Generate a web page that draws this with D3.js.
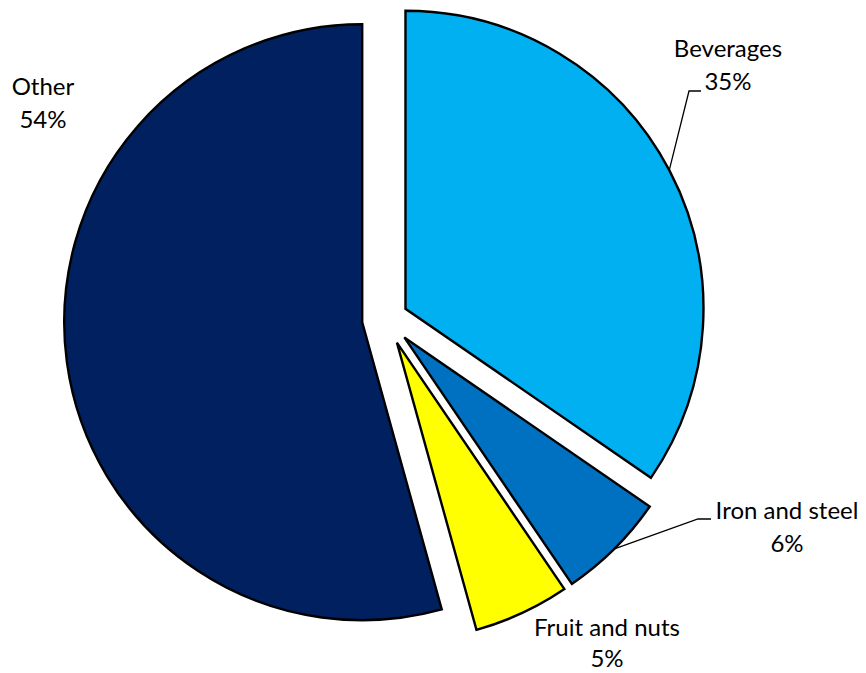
<!DOCTYPE html>
<html>
<head>
<meta charset="utf-8">
<script src="https://cdn.jsdelivr.net/npm/d3@7"></script>
<style>
  html, body { margin: 0; padding: 0; background: #ffffff; }
  svg { display: block; }
  text { font-family: Lato, "Open Sans", sans-serif; fill: #000; }
</style>
</head>
<body>
<svg id="chart" width="866" height="673"></svg>
<script>
// ---- data ----
const categories = ["Beverages", "Iron and steel", "Fruit and nuts", "Other"];
const values = [34.6, 5.9, 5.2, 54.3];
const colors = ["#00B0F0", "#0070C0", "#FFFF00", "#002060"];

// ---- layout ----
const W = 866, H = 673;
const cx = 386, cy = 319, R = 298;
const explode = [22, 26, 26, 24];
// label anchor positions (centre x, first baseline y) and leader lines
const labelPos = [
  { x: 728, y: 57 },
  { x: 787, y: 519 },
  { x: 607, y: 636 },
  { x: 43, y: 95 }
];
const leaderElbow = [
  [[689, 91], [701, 91]],
  [[698, 519], [711, 519]],
  null,
  null
];
const lineGap = [33, 33, 31, 33];

const svg = d3.select("#chart");
const g = svg.append("g").attr("transform", `translate(${cx},${cy})`);

const pie = d3.pie().sort(null).value(d => d.value).startAngle(0).endAngle(2 * Math.PI);
const arcs = pie(categories.map((c, i) => ({ name: c, value: values[i], i })));
const arc = d3.arc().innerRadius(0).outerRadius(R);
const total = d3.sum(values);
const fmt = v => Math.round(v / total * 100) + "%";

arcs.forEach((a, i) => {
  const mid = (a.startAngle + a.endAngle) / 2;
  const dx = explode[i] * Math.sin(mid), dy = -explode[i] * Math.cos(mid);
  g.append("path")
    .attr("d", arc(a))
    .attr("transform", `translate(${dx},${dy})`)
    .attr("fill", colors[i])
    .attr("stroke", "#000")
    .attr("stroke-width", 2.4)
    .attr("stroke-linejoin", "miter");

  if (leaderElbow[i]) {
    const sx = cx + dx + R * Math.sin(mid), sy = cy + dy - R * Math.cos(mid);
    const pts = [[sx, sy]].concat(leaderElbow[i]);
    svg.append("path")
      .attr("d", d3.line()(pts))
      .attr("fill", "none")
      .attr("stroke", "#000")
      .attr("stroke-width", 1.3);
  }
});

arcs.forEach((a, i) => {
  const t = svg.append("text")
    .attr("text-anchor", "middle")
    .attr("font-size", 24)
    .attr("x", labelPos[i].x)
    .attr("y", labelPos[i].y);
  t.append("tspan").attr("x", labelPos[i].x).text(categories[i]);
  t.append("tspan").attr("x", labelPos[i].x).attr("dy", lineGap[i]).text(fmt(values[i]));
});
</script>
</body>
</html>
